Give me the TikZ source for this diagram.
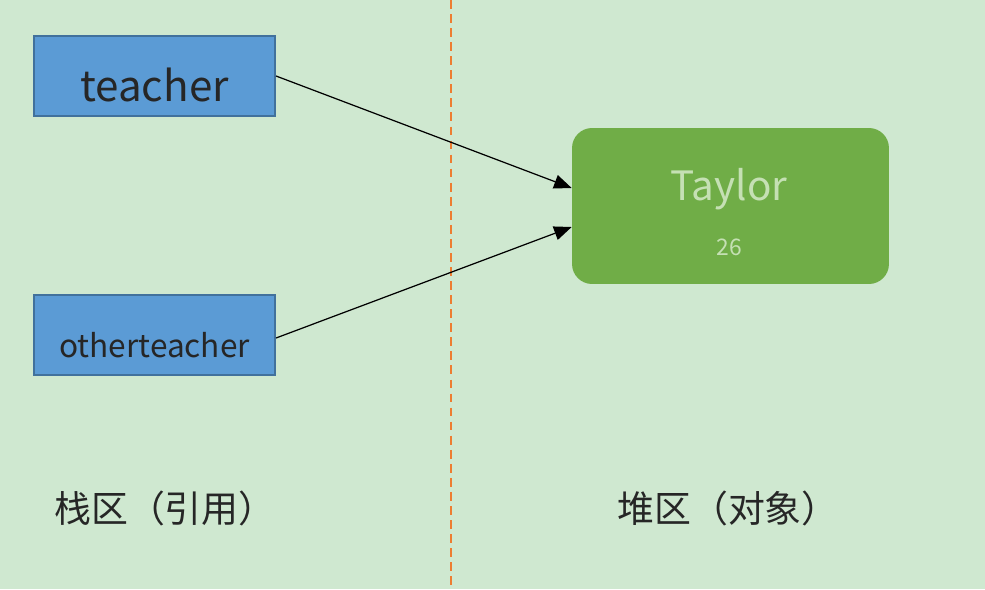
\documentclass[tikz,border=0pt]{standalone}
\usepackage{fontspec}
\setmainfont{Noto Sans CJK SC}
\usetikzlibrary{calc}
\usetikzlibrary{arrows.meta}

\definecolor{bgreen}{HTML}{CFE8D0}
\definecolor{refblue}{HTML}{5B9BD5}
\definecolor{refedge}{HTML}{41719C}
\definecolor{objgreen}{HTML}{70AD47}
\definecolor{objtext}{HTML}{C5E0B4}
\definecolor{divider}{HTML}{ED7D31}

\tikzset{
  refbox/.style={draw=refedge, fill=refblue, line width=1.2pt, minimum width=4.82cm, minimum height=1.6cm, inner sep=0pt},
  reftext/.style={text=black!85, inner sep=0pt},
  objbox/.style={fill=objgreen, rounded corners=0.4cm, minimum width=6.34cm, minimum height=3.12cm, inner sep=0pt},
  pointer/.style={black, line width=0.7pt, -{Triangle[length=10pt, width=8pt]}},
  arealabel/.style={font=\fontsize{21}{25}\selectfont, text=black!85}
}

\begin{document}
\begin{tikzpicture}[x=0.02cm, y=-0.02cm]
\fill[bgreen] (0,0) rectangle (985,589);
\useasboundingbox (0,0) rectangle (985,589);

\coordinate (top) at (451,0);
\coordinate (bottom) at (451,589);
\draw[divider, line width=0.8pt, dash pattern=on 5pt off 3pt] (top) -- (bottom);

\node[refbox] (teacher) at (154.5,76) {};
\node[reftext, font=\fontsize{24}{28}\selectfont] (teachertext) at (154.5,85) {teacher};
\node[refbox] (other) at (154.5,335) {};
\node[reftext, font=\fontsize{18}{22}\selectfont] (othertext) at (154.5,345) {otherteacher};

\node[objbox] (taylor) at (730.5,206) {};
\node[text=objtext, font=\fontsize{23}{26}\selectfont] (name) at (729,189) {Taylor};
\node[text=objtext, font=\fontsize{13}{15}\selectfont] (age) at (729,247) {26};

\coordinate (in1) at ([yshift=0.36cm]taylor.west);
\coordinate (in2) at ([yshift=-0.42cm]taylor.west);
\draw[pointer] (teacher.east) -- (in1);
\draw[pointer] ([yshift=-0.06cm]other.east) -- (in2);

\node[arealabel] (stack) at (165,508) {栈区（引用）};
\node[arealabel] (heap) at (728,508) {堆区（对象）};

\end{tikzpicture}
\end{document}
